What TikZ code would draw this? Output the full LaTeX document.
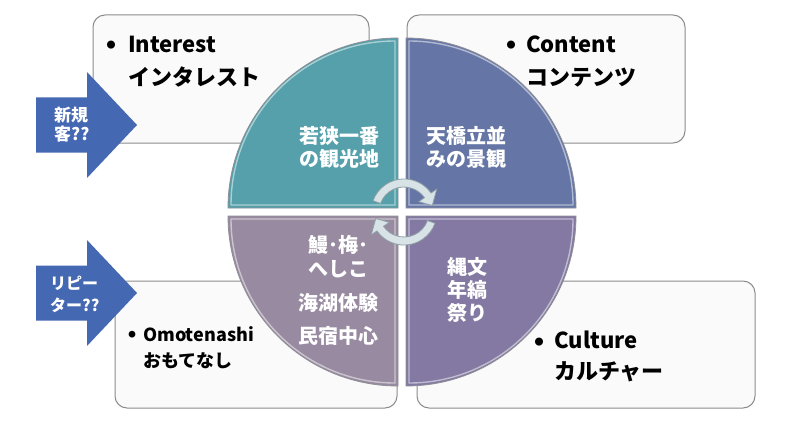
\documentclass[tikz,border=0pt]{standalone}
\usepackage{fontspec}
\setmainfont{Noto Sans CJK JP}
\definecolor{boxfill}{HTML}{FAFAFA}
\definecolor{boxline}{HTML}{8C8C8C}
\definecolor{arrowblue}{HTML}{4568B2}
\definecolor{qteal}{HTML}{55A0AA}
\definecolor{qblue}{HTML}{6576A6}
\definecolor{qmauve}{HTML}{988AA0}
\definecolor{qpurple}{HTML}{8379A2}
\definecolor{qline}{HTML}{8E8E96}
\definecolor{circfill}{HTML}{D8E3E7}
\definecolor{circline}{HTML}{8FA0A6}
\begin{document}
\begin{tikzpicture}[x=1pt,y=-1pt,
  box/.style={draw=boxline, fill=boxfill, line width=1pt, rounded corners=12pt},
  quad/.style={draw=qline, line width=0.8pt},
  hilite/.style={draw=white, draw opacity=0.5, line width=1.4pt},
  bluearrow/.style={fill=arrowblue},
  circarrow/.style={fill=circfill, draw=circline, line width=0.8pt, line join=round},
  bigtxt/.style={font=\bfseries\fontsize{22}{26}\selectfont, anchor=base west, inner sep=0pt},
  midtxt/.style={font=\bfseries\fontsize{18}{22}\selectfont, anchor=base west, inner sep=0pt},
  bul/.style={inner sep=0pt, font=\fontsize{9}{10}\selectfont},
  qtxt/.style={font=\bfseries\fontsize{20}{23}\selectfont, text=white, align=center, inner sep=0pt},
  atxt/.style={text=white, align=left, anchor=west, inner sep=0pt}
]
\useasboundingbox (0,0) rectangle (800,433);
\fill[white] (0,0) rectangle (800,433);

% boxes
\draw[box] (93,15) rectangle (369,143);
\draw[box] (407,15) rectangle (685,143);
\draw[box] (115,281) rectangle (397,408);
\draw[box] (417,281) rectangle (755,408);

% blue arrows
\fill[bluearrow] (36,97.5) -- (87,97.5) -- (87,72) -- (137,125) -- (87,178) -- (87,152.5) -- (36,152.5) -- cycle;
\fill[bluearrow] (36,265.5) -- (87,265.5) -- (87,240) -- (137,293) -- (87,346) -- (87,320.5) -- (36,320.5) -- cycle;
\node[atxt, font=\bfseries\fontsize{17}{19}\selectfont] (a1) at (54,125) {新規\\客??};
\node[atxt, font=\bfseries\fontsize{16}{22}\selectfont] (a2) at (50,294) {リピー\\ター??};

% pie quadrants
\path[quad, fill=qteal] (398,208) -- (228,208) arc[start angle=180, end angle=270, radius=170] -- cycle;
\path[quad, fill=qblue] (406,208) -- (406,38) arc[start angle=270, end angle=360, radius=170] -- cycle;
\path[quad, fill=qpurple] (406,216) -- (576,216) arc[start angle=0, end angle=90, radius=170] -- cycle;
\path[quad, fill=qmauve] (398,216) -- (398,386) arc[start angle=90, end angle=180, radius=170] -- cycle;
\path[hilite] (395,205) -- (231,205) arc[start angle=180, end angle=270, radius=164] -- cycle;
\path[hilite] (409,205) -- (409,41) arc[start angle=270, end angle=360, radius=164] -- cycle;
\path[hilite] (409,219) -- (573,219) arc[start angle=0, end angle=90, radius=164] -- cycle;
\path[hilite] (395,219) -- (395,383) arc[start angle=90, end angle=180, radius=164] -- cycle;

% circular arrows
\begin{scope}[shift={(404,212)}]
\path[circarrow] (200:25) arc[start angle=200, end angle=325, radius=25] -- (325:18) -- (347:29) -- (325:40) -- (325:33) arc[start angle=325, end angle=200, radius=33] -- cycle;
\path[circarrow] (20:25) arc[start angle=20, end angle=145, radius=25] -- (145:18) -- (167:29) -- (145:40) -- (145:33) arc[start angle=145, end angle=20, radius=33] -- cycle;
\end{scope}

% pie texts
\node[qtxt] (q1) at (339,147.5) {若狭一番\\の観光地};
\node[qtxt] (q2) at (466,147.5) {天橋立並\\みの景観};
\node[qtxt, font=\bfseries\fontsize{20}{24}\selectfont] (q3) at (338,290.5) {鰻･梅･\\へしこ\\[10pt]海湖体験\\[9pt]民宿中心};
\node[qtxt] (q4) at (467,290) {縄文\\年縞\\祭り};

% box texts
\node[bul] (b1) at (111,45) {●};
\node[bigtxt] (t1) at (128,53) {Interest};
\node[bigtxt] (t1j) at (128,86) {インタレスト};
\node[bul] (b2) at (511,45) {●};
\node[bigtxt] (t2) at (526,53) {Content};
\node[bigtxt] (t2j) at (526,86) {コンテンツ};
\node[bul, font=\fontsize{7.5}{9}\selectfont] (b3) at (132,335) {●};
\node[midtxt] (t3) at (143,341) {Omotenashi};
\node[midtxt] (t3j) at (143,367) {おもてなし};
\node[bul] (b4) at (539,342) {●};
\node[bigtxt] (t4) at (554,348) {Culture};
\node[bigtxt] (t4j) at (554,379) {カルチャー};
\end{tikzpicture}
\end{document}
